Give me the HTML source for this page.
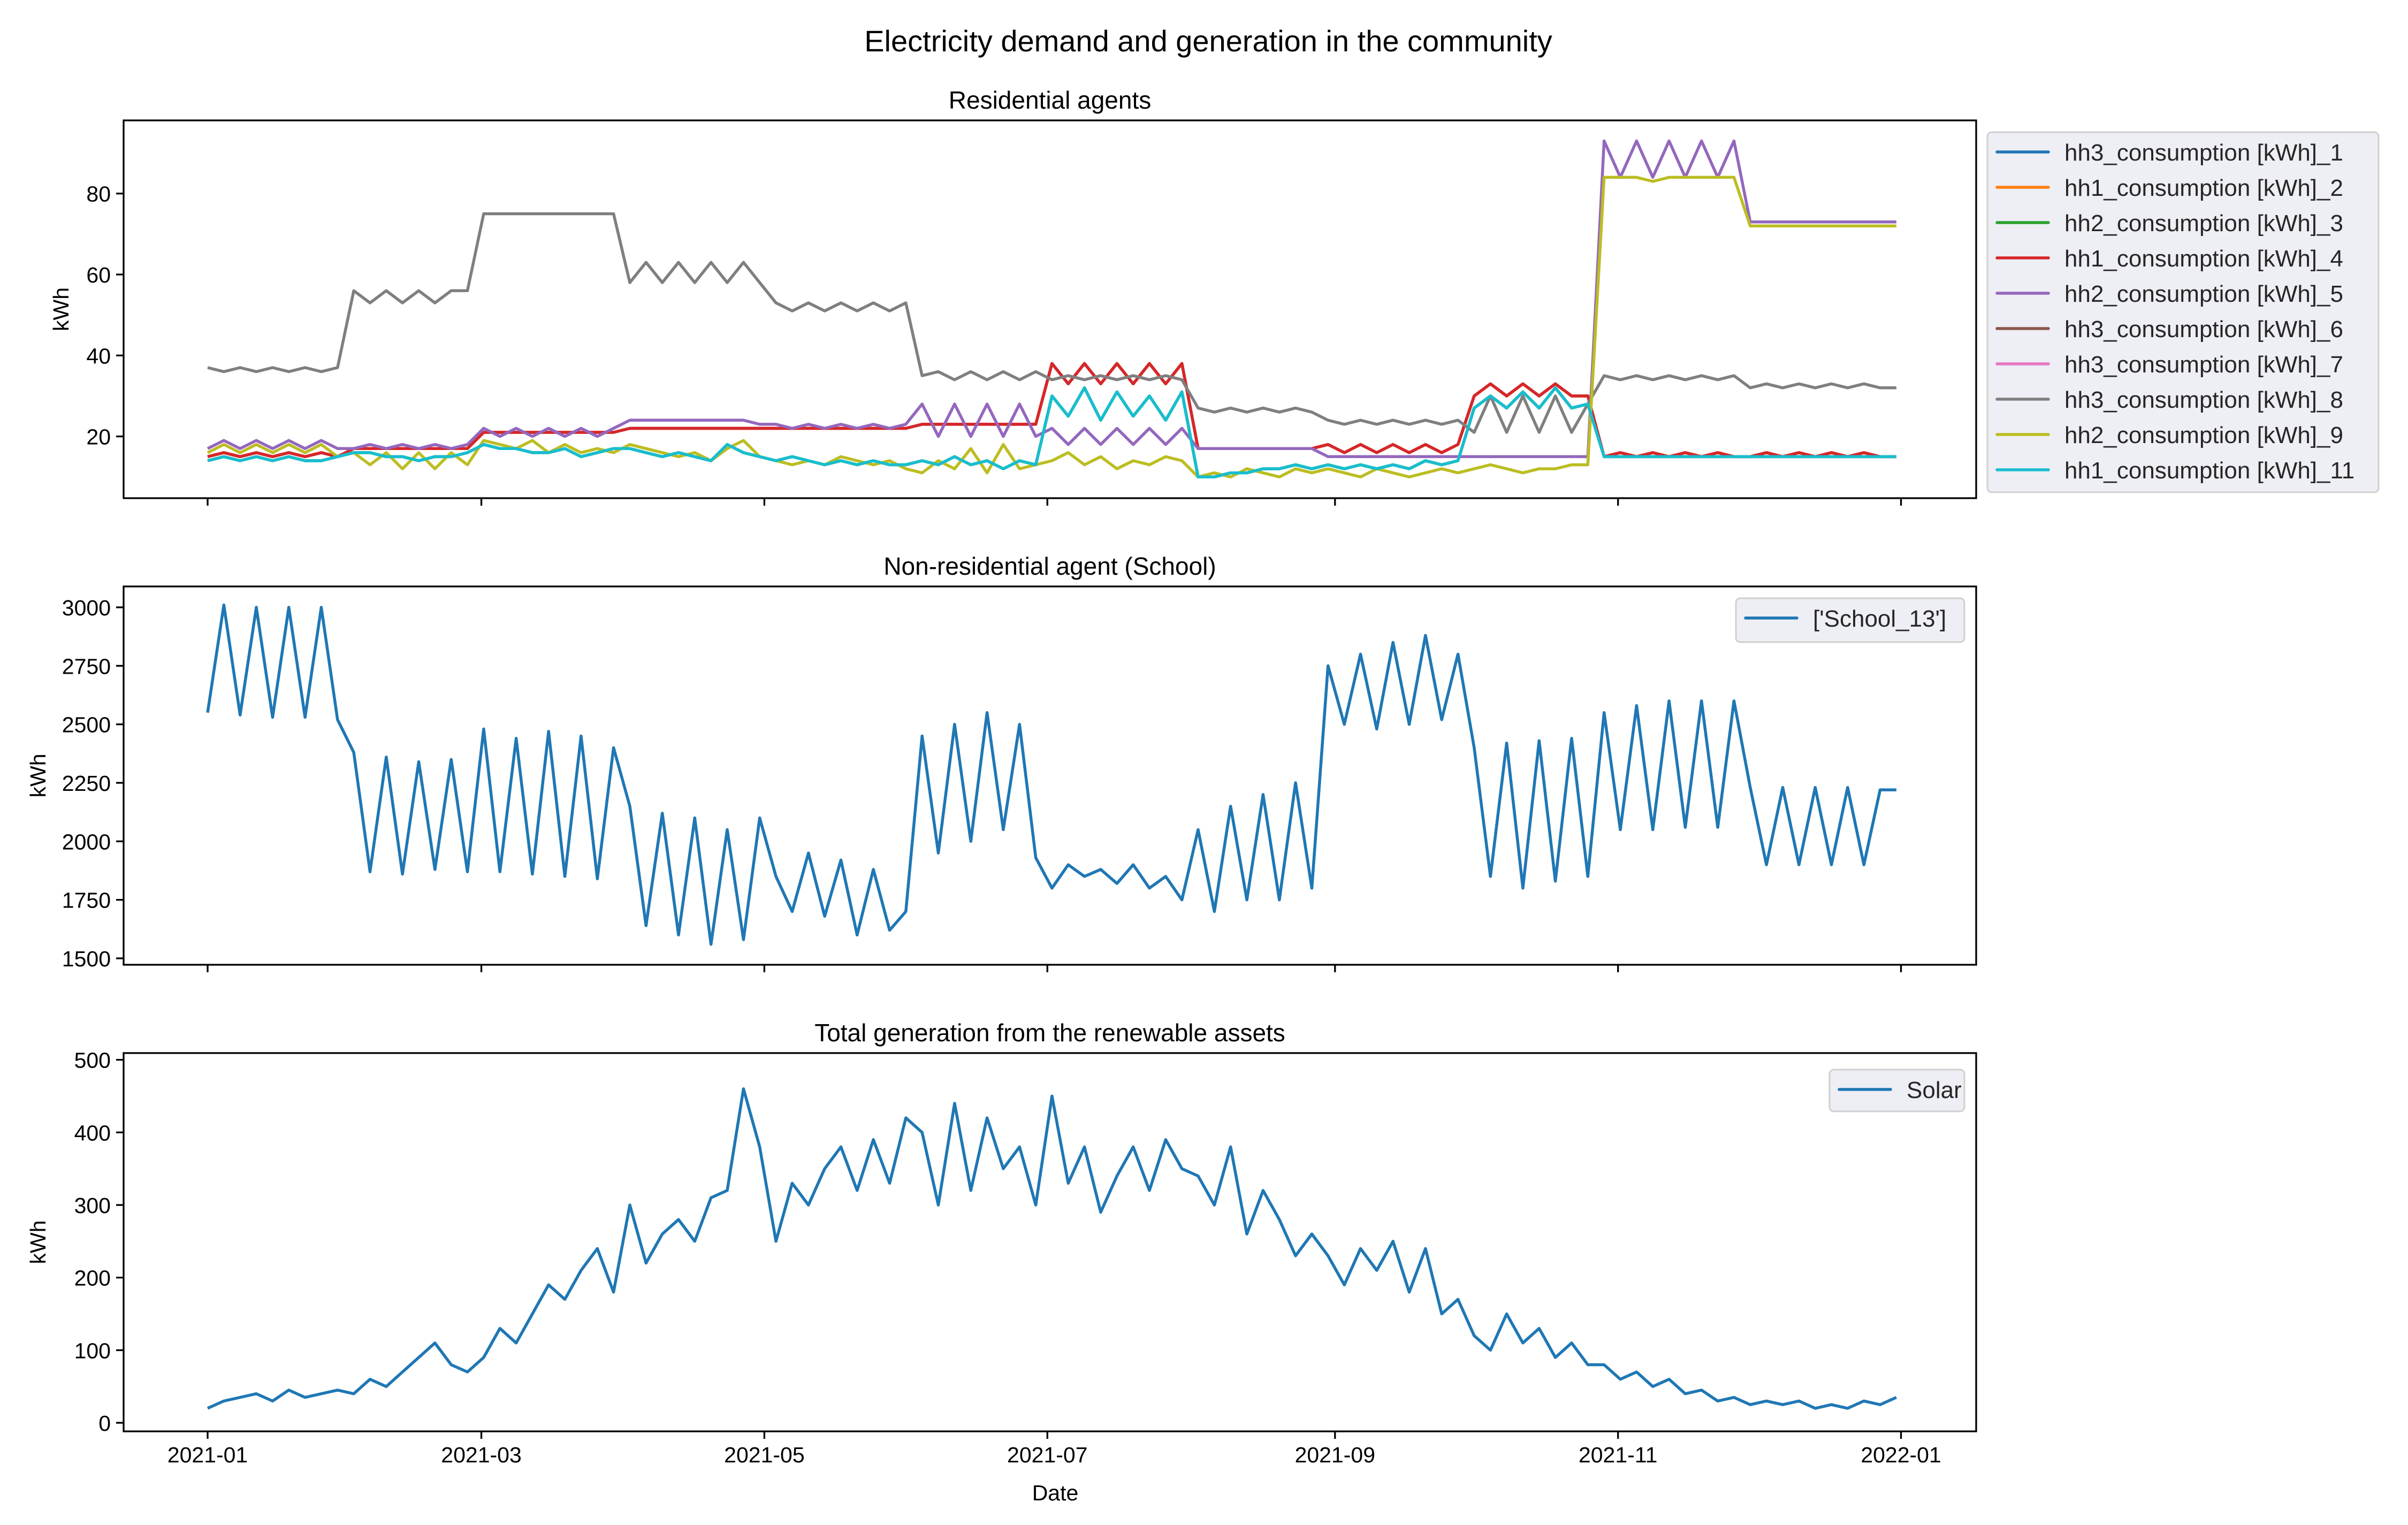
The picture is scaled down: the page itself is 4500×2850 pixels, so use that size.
<!DOCTYPE html>
<html><head><meta charset="utf-8"><title>Electricity demand and generation</title>
<style>
html,body{margin:0;padding:0;background:#fff;}
svg{display:block;font-family:"Liberation Sans",Arial,sans-serif;}
</style></head>
<body>
<svg id="fig" xmlns="http://www.w3.org/2000/svg" width="4500" height="2850" viewBox="0 0 4500 2850">
<rect width="4500" height="2850" fill="#fff"/>
<text x="2258" y="96" font-size="56" text-anchor="middle" fill="#000">Electricity demand and generation in the community</text>
</svg>
<script>
// Sampled every 3.5 days starting 2021-01-01 (half-week resolution)
const sampleStepDays = 3.5;
const xTickLabels = ["2021-01","2021-03","2021-05","2021-07","2021-09","2021-11","2022-01"];
const xTickDays = [0,59,120,181,243,304,365];

const resTicks = [20,40,60,80];
const schoolTicks = [1500,1750,2000,2250,2500,2750,3000];
const solarTicks = [0,100,200,300,400,500];

const hh8 = [37,36,37,36,37,36,37,36,37, 56,53,56,53,56,53,56,56, 75,75,75,75,75,75,75,75,75, 58,63,58,63,58,63,58,63,58, 53,51,53,51,53,51,53,51,53, 35,36,34,36,34,36,34,36, 34,35,34,35,34,35,34,35,34, 27,26,27,26,27,26,27,26, 24,23,24,23,24,23,24,23,24, 21,30,21,30,21,30,21,28, 35,34,35,34,35,34,35,34,35, 32,33,32,33,32,33,32,33,32,32];
const hh5 = [17,19,17,19,17,19,17,19,17, 17,18,17,18,17,18,17,18, 22,20,22,20,22,20,22,20,22, 24,24,24,24,24,24,24,24,23, 23,22,23,22,23,22,23,22,23, 28,20,28,20,28,20,28,20, 22,18,22,18,22,18,22,18,22, 17,17,17,17,17,17,17,17, 15,15,15,15,15,15,15,15,15, 15,15,15,15,15,15,15,15, 93,84,93,84,93,84,93,84,93, 73,73,73,73,73,73,73,73,73,73];
const hh4 = [15,16,15,16,15,16,15,16,15, 17,17,17,17,17,17,17,17, 21,21,21,21,21,21,21,21,21, 22,22,22,22,22,22,22,22,22, 22,22,22,22,22,22,22,22,22, 23,23,23,23,23,23,23,23, 38,33,38,33,38,33,38,33,38, 17,17,17,17,17,17,17,17, 18,16,18,16,18,16,18,16,18, 30,33,30,33,30,33,30,30, 15,16,15,16,15,16,15,16,15, 15,16,15,16,15,16,15,16,15,15];
const hh9 = [16,18,16,18,16,18,16,18,15, 16,13,16,12,16,12,16,13, 19,18,17,19,16,18,16,17,16, 18,17,16,15,16,14,17,19,15, 14,13,14,13,15,14,13,14,12, 11,14,12,17,11,18,12,13, 14,16,13,15,12,14,13,15,14, 10,11,10,12,11,10,12,11, 12,11,10,12,11,10,11,12,11, 12,13,12,11,12,12,13,13, 84,84,84,83,84,84,84,84,84, 72,72,72,72,72,72,72,72,72,72];
const hh11 = [14,15,14,15,14,15,14,14,15, 16,16,15,15,14,15,15,16, 18,17,17,16,16,17,15,16,17, 17,16,15,16,15,14,18,16,15, 14,15,14,13,14,13,14,13,13, 14,13,15,13,14,12,14,13, 30,25,32,24,31,25,30,24,31, 10,10,11,11,12,12,13,12, 13,12,13,12,13,12,14,13,14, 27,30,27,31,27,32,27,28, 15,15,15,15,15,15,15,15,15, 15,15,15,15,15,15,15,15,15,15];
// hidden series overlap the visible ones
const hh1 = hh11, hh2 = hh4, hh3 = hh11, hh6 = hh4, hh7 = hh4;

const school = [2550,3010,2540,3000,2530,3000,2530,3000,2520, 2380,1870,2360,1860,2340,1880,2350,1870, 2480,1870,2440,1860,2470,1850,2450,1840,2400, 2150,1640,2120,1600,2100,1560,2050,1580,2100, 1850,1700,1950,1680,1920,1600,1880,1620,1700, 2450,1950,2500,2000,2550,2050,2500,1930, 1800,1900,1850,1880,1820,1900,1800,1850,1750, 2050,1700,2150,1750,2200,1750,2250,1800, 2750,2500,2800,2480,2850,2500,2880,2520,2800, 2400,1850,2420,1800,2430,1830,2440,1850, 2550,2050,2580,2050,2600,2060,2600,2060,2600, 2230,1900,2230,1900,2230,1900,2230,1900,2220,2220];
const solar = [20,30,35,40,30,45,35,40,45, 40,60,50,70,90,110,80,70, 90,130,110,150,190,170,210,240,180, 300,220,260,280,250,310,320,460,380, 250,330,300,350,380,320,390,330,420, 400,300,440,320,420,350,380,300, 450,330,380,290,340,380,320,390,350, 340,300,380,260,320,280,230,260, 230,190,240,210,250,180,240,150,170, 120,100,150,110,130,90,110,80, 80,60,70,50,60,40,45,30,35, 25,30,25,30,20,25,20,30,25,35];

const NS = "http://www.w3.org/2000/svg";
const fig = document.getElementById('fig');
function el(tag, attrs, parent){ const e=document.createElementNS(NS,tag); for(const k in attrs) e.setAttribute(k,attrs[k]); (parent||fig).appendChild(e); return e; }

const AX_L = 231, AX_R = 3693, DAY0_X = 388, PX_PER_DAY = 8.67;
function xScale(day){ return DAY0_X + day*PX_PER_DAY; }

function panel(name, top, bottom, v0, y0px, v1, y1px, ticks, title, showXLabels){
  const g = el('g',{});
  
  
  const yScale = v => y0px + (v - v0) * (y1px - y0px) / (v1 - v0);
  const t = el('text',{x:(AX_L+AX_R)/2, y:top-22, 'font-size':46, 'text-anchor':'middle', fill:'#000'}, g);
  t.textContent = title;
  
  
  ticks.forEach(v=>{
    const y = yScale(v);
    const tk = el('line',{x1:AX_L-14, x2:AX_L, y1:y, y2:y, stroke:'#000','stroke-width':3.3}, g);
    
    
    const lb = el('text',{x:AX_L-24, y:y+15, 'font-size':41, 'text-anchor':'end', fill:'#000'}, g);
    lb.textContent = v;
    
    
  });
  xTickDays.forEach((d,i)=>{
    const x = xScale(d);
    const tk = el('line',{x1:x, x2:x, y1:bottom, y2:bottom+14, stroke:'#000','stroke-width':3.3}, g);
    
    
    if(showXLabels){
      const lb = el('text',{x:x, y:bottom+58, 'font-size':41, 'text-anchor':'middle', fill:'#000'}, g);
      lb.textContent = xTickLabels[i];
      
      
    }
  });
  const yl = el('text',{x:0,y:0,'font-size':41,'text-anchor':'middle',fill:'#000',transform:`translate(${name==='residential'?128:85},${(top+bottom)/2}) rotate(-90)`}, g);
  yl.textContent = 'kWh';
  
  
  return {g, yScale, top, bottom};
}

function drawSeries(p, arr, color, name){
  const pts = arr.map((v,i)=> xScale(i*sampleStepDays).toFixed(1)+','+p.yScale(v).toFixed(1)).join(' ');
  const pl = el('polyline',{points:pts, fill:'none', stroke:color, 'stroke-width':5.5, 'stroke-linejoin':'round'}, p.g);
  
  
}
function frame(p){
  const r = el('rect',{x:AX_L, y:p.top, width:AX_R-AX_L, height:p.bottom-p.top, fill:'none', stroke:'#000', 'stroke-width':3.3}, p.g);
  
  
}
function legend(p, x, y, w, h, entries, rowH){
  const lg = el('g',{}, p.g);
  
  
  el('rect',{x:x, y:y, width:w, height:h, rx:8, fill:'#eaeaf2', 'fill-opacity':0.8, stroke:'#d0d0d0', 'stroke-width':3}, lg);
  entries.forEach((e,i)=>{
    const cy = y + 37 + i*rowH;
    const ent = el('g',{}, lg);
    
    
    el('line',{x1:x+18, x2:x+114, y1:cy, y2:cy, stroke:e[1], 'stroke-width':5.5, 'stroke-linecap':'round'}, ent);
    const t = el('text',{x:x+144, y:cy+16, 'font-size':44, fill:'#262626'}, ent);
    t.textContent = e[0];
  });
}

// Residential
const p1 = panel('residential', 225, 931, 20, 815.6, 80, 361.7, resTicks, 'Residential agents', false);
const resSeries = [
  [hh1,'#1f77b4','hh3_consumption [kWh]_1'],[hh2,'#ff7f0e','hh1_consumption [kWh]_2'],[hh3,'#2ca02c','hh2_consumption [kWh]_3'],
  [hh4,'#d62728','hh1_consumption [kWh]_4'],[hh5,'#9467bd','hh2_consumption [kWh]_5'],[hh6,'#8c564b','hh3_consumption [kWh]_6'],
  [hh7,'#e377c2','hh3_consumption [kWh]_7'],[hh8,'#7f7f7f','hh3_consumption [kWh]_8'],[hh9,'#bcbd22','hh2_consumption [kWh]_9'],
  [hh11,'#17becf','hh1_consumption [kWh]_11']];
// draw hidden (overlapped) series first so visible ones sit on top
const drawOrder = [0,1,2,5,6,3,4,7,8,9];
drawOrder.forEach(i=>{ const s = resSeries[i]; drawSeries(p1, s[0], s[1], 'series-'+s[2].split(' ')[0]+'-'+s[2].split('_').pop()); });
frame(p1);
const lg1Entries = resSeries.map(s=>[s[2], s[1]]);
legend(p1, 3714, 247, 731, 673, lg1Entries, 66);

// School
const p2 = panel('school', 1096, 1803, 1500, 1791, 3000, 1135, schoolTicks, 'Non-residential agent (School)', false);
drawSeries(p2, school, '#1f77b4', 'school-13-line');
frame(p2);
legend(p2, 3244, 1118, 427, 82, [["['School_13']", '#1f77b4']], 66);

// Solar
const p3 = panel('solar', 1968, 2675, 0, 2659, 500, 1980.6, solarTicks, 'Total generation from the renewable assets', true);
drawSeries(p3, solar, '#1f77b4', 'solar-line');
frame(p3);
legend(p3, 3419, 1999, 252, 78, [['Solar', '#1f77b4']], 66);

const xt = el('text',{x:1972, y:2804, 'font-size':41, 'text-anchor':'middle', fill:'#000'});
xt.textContent = 'Date';


</script>
</body></html>
